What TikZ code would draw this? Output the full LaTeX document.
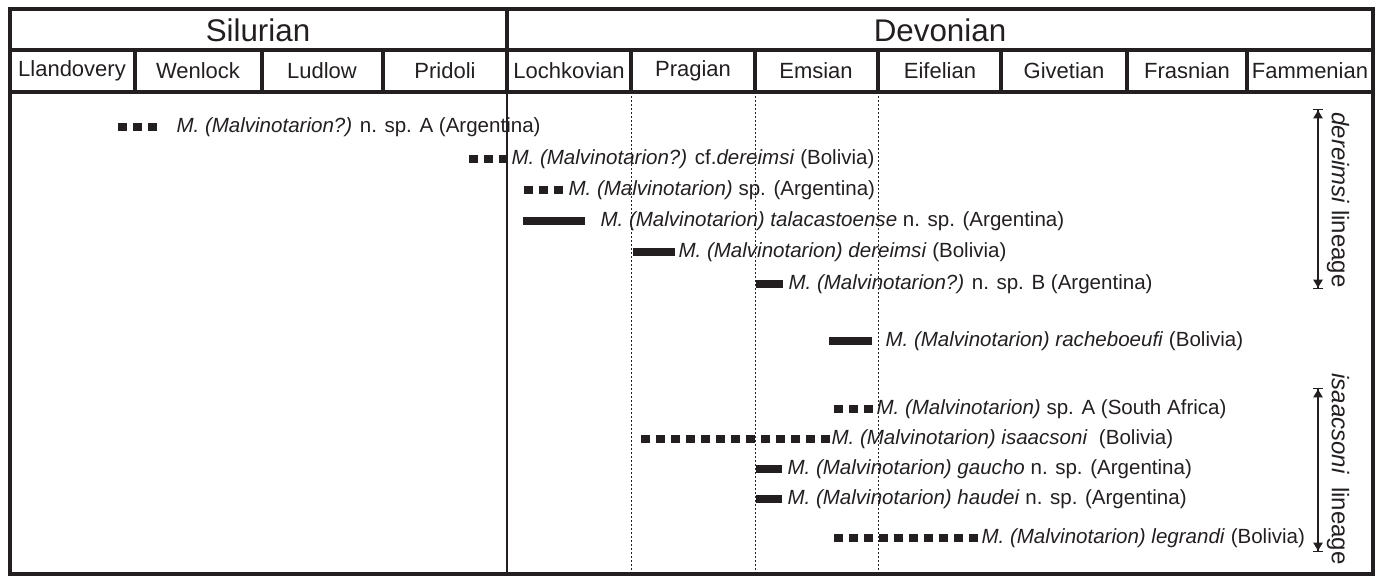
\documentclass[tikz,border=0pt]{standalone}
\usepackage{fontspec}
\setmainfont{Liberation Sans}
\usetikzlibrary{arrows.meta}
\definecolor{ink}{RGB}{35,31,32}
\tikzset{every picture/.style={line width=0.75pt}}

\begin{document}
\begin{tikzpicture}[x=0.75pt,y=0.75pt,yscale=-1,xscale=1,
	period/.style={font=\fontsize{23.5}{27}\selectfont, text=ink},
	stage/.style={font=\fontsize{16.5}{20}\selectfont, text=ink},
	taxon/.style={font=\fontsize{15.4}{18}\selectfont, text=ink, anchor=west, inner sep=0pt},
	lineage/.style={font=\fontsize{18}{22}\selectfont, text=ink, rotate=-90, inner sep=0pt},
	frameline/.style={draw=ink, line width=3pt},
	rangebar/.style={draw=ink, line width=6pt},
	rangedots/.style={rangebar, dash pattern=on 6.75pt off 4.5pt},
	stagegap/.style={draw=ink, line width=0.75pt, dash pattern=on 1.5pt off 1.5pt},
	lineagebar/.style={draw=ink, line width=1pt,
		arrows={Bar[width=7.5pt,line width=1pt]Triangle[length=6pt,width=7pt]-Triangle[length=6pt,width=7pt]Bar[width=7.5pt,line width=1pt]}}]
	\useasboundingbox (0,0) rectangle (1377,576);

	%Straight Lines
	\draw [ink, line width=1pt] (507,92) -- (507,574) ;
	\foreach \x in {631,755,878}
		\draw [stagegap] (\x,92) -- (\x,574) ;

	%Range bars
	\draw [rangedots] (118,127) -- (157,127) ;
	\draw [rangedots] (469,159) -- (508,159) ;
	\draw [rangedots] (524,190) -- (563,190) ;
	\draw [rangebar] (523,221) -- (585,221) ;
	\draw [rangebar] (633,252) -- (675,252) ;
	\draw [rangebar] (756,284) -- (783,284) ;
	\draw [rangebar] (829,341) -- (872,341) ;
	\draw [rangedots] (834,409) -- (873,409) ;
	\draw [rangedots] (641,439) -- (830,439) ;
	\draw [rangebar] (756,469) -- (782,469) ;
	\draw [rangebar] (756,499) -- (782,499) ;
	\draw [rangedots] (834,538) -- (978,538) ;

	% Text Node
	\draw (176,127) node [taxon] (nspA) {\textit{M. (Malvinotarion?)} n. sp. A (Argentina)};
	\draw (511,159) node [taxon] (cfdereimsi) {\textit{M. (Malvinotarion?)} cf.\textit{dereimsi} (Bolivia)};
	\draw (568,190) node [taxon] (spArg) {\textit{M. (Malvinotarion)} sp. (Argentina)};
	\draw (600,221) node [taxon] (talacast) {\textit{M. (Malvinotarion) talacastoense} n. sp. (Argentina)};
	\draw (678,252) node [taxon] (dereimsi) {\textit{M. (Malvinotarion) dereimsi} (Bolivia)};
	\draw (788,284) node [taxon] (nspB) {\textit{M. (Malvinotarion?)} n. sp. B (Argentina)};
	\draw (885,341) node [taxon] (racheb) {\textit{M. (Malvinotarion) racheboeufi} (Bolivia)};
	\draw (876,409) node [taxon] (spSA) {\textit{M. (Malvinotarion)} sp. A (South Africa)};
	\draw (831,439) node [taxon] (isaac) {\textit{M. (Malvinotarion) isaacsoni}\ \ (Bolivia)};
	\draw (787,469) node [taxon] (gaucho) {\textit{M. (Malvinotarion) gaucho} n. sp. (Argentina)};
	\draw (787,499) node [taxon] (haudei) {\textit{M. (Malvinotarion) haudei} n. sp. (Argentina)};
	\draw (981,538) node [taxon] (legrandi) {\textit{M. (Malvinotarion) legrandi} (Bolivia)};

	%Lineage arrows
	\coordinate (dtop) at (1318,109) ;
	\coordinate (dbot) at (1318,289) ;
	\draw [lineagebar] (dtop) -- (dbot) ;
	\draw (1338,200) node [lineage] (dlin) {\textit{dereimsi} lineage};
	\coordinate (itop) at (1318,388) ;
	\coordinate (ibot) at (1318,552) ;
	\draw [lineagebar] (itop) -- (ibot) ;
	\draw (1338,469) node [lineage] (ilin) {\textit{isaacsoni}\ \ lineage};

	%Header
	\draw [frameline] (10,50) -- (1373,50) ;
	\draw [frameline] (10,92) -- (1373,92) ;
	\draw [frameline] (507,9) -- (507,92) ;
	\foreach \x in {135,262,383,631,755,878,1001,1127,1247}
		\draw [frameline] (\x,50) -- (\x,92) ;
	\draw [frameline] (10,9) rectangle (1373,574) ;

	% Text Node
	\draw (258,30) node [period] (silurian) {Silurian};
	\draw (940,30) node [period] (devonian) {Devonian};
	\draw (72,71) node [stage] (llandovery) {Llandovery};
	\draw (198,71) node [stage] (wenlock) {Wenlock};
	\draw (322,71) node [stage] (ludlow) {Ludlow};
	\draw (445,71) node [stage] (pridoli) {Pridoli};
	\draw (569,71) node [stage] (lochkovian) {Lochkovian};
	\draw (693,71) node [stage] (pragian) {Pragian};
	\draw (816,71) node [stage] (emsian) {Emsian};
	\draw (940,71) node [stage] (eifelian) {Eifelian};
	\draw (1064,71) node [stage] (givetian) {Givetian};
	\draw (1187,71) node [stage] (frasnian) {Frasnian};
	\draw (1310,71) node [stage] (fammenian) {Fammenian};

\end{tikzpicture}
\end{document}
